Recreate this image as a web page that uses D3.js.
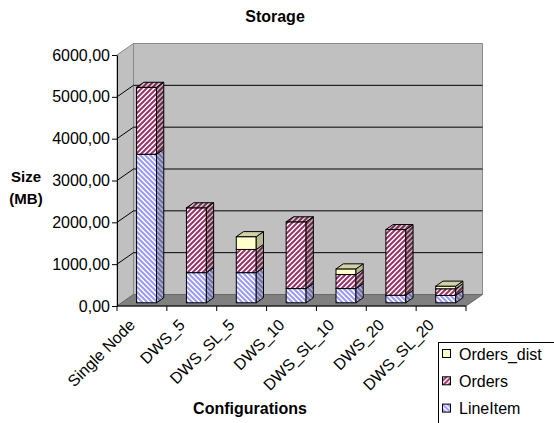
<!DOCTYPE html>
<html>
<head>
<meta charset="utf-8">
<script src="https://cdn.jsdelivr.net/npm/d3@7"></script>
<style>
  html, body { margin: 0; padding: 0; background: #fff; }
  svg { display: block; font-family: "Liberation Sans", Arial, sans-serif; }
</style>
</head>
<body>
<svg id="chart" width="554" height="423"></svg>
<script>
// Storage footprint per configuration (MB), stacked by table
const categories = ["Single Node", "DWS_5", "DWS_SL_5", "DWS_10", "DWS_SL_10", "DWS_20", "DWS_SL_20"];
const lineItem   = [3550, 720, 720, 340, 340, 180, 175];
const orders     = [1600, 1550, 555, 1595, 335, 1570, 160];
const ordersDist = [0, 0, 305, 0, 135, 0, 62];
const seriesKeys = ["LineItem", "Orders", "Orders_dist"];
const yTicks = [0, 1000, 2000, 3000, 4000, 5000, 6000];

const svg = d3.select("#chart");
const defs = svg.append("defs");

// plot box (front plane) and 3-D depth offset
const plotL = 117, plotR = 466, plotB = 306, plotT = 55;
const DX = 16.5, DY = -11.5;
const T0 = 0.28, T1 = 0.72;   // bar depth range within the floor

const y = d3.scaleLinear().domain([0, 6000]).range([plotB, plotT]);
const xCat = d3.scaleBand().domain(categories).range([plotL, plotR]).padding(0);
const xBar = d3.scaleBand().domain(categories).range([plotL, plotR])
  .paddingInner(0.6).paddingOuter(0.3);

// hatch patterns
function hatch(id, color, dir) {
  const p = defs.append("pattern").attr("id", id)
    .attr("patternUnits", "userSpaceOnUse").attr("width", 5).attr("height", 5);
  p.append("rect").attr("width", 5).attr("height", 5).attr("fill", "#fff");
  const d = dir === "up"
    ? "M-1,1 l2,-2 M0,5 l5,-5 M4,6 l2,-2"
    : "M-1,4 l2,2 M0,0 l5,5 M4,-1 l2,2";
  p.append("path").attr("d", d).attr("stroke", color).attr("stroke-width", 2);
}
hatch("pLine", "#9999ff", "down");
hatch("pOrd", "#993366", "up");

const fills = {
  LineItem: "url(#pLine)",
  Orders: "url(#pOrd)",
  Orders_dist: "#ffffcc"
};

const poly = pts => pts.map(p => p.join(",")).join(" ");

// walls and floor
svg.append("polygon")
  .attr("points", poly([[plotL, y(0)], [plotL, y(6000)], [plotL + DX, y(6000) + DY], [plotL + DX, y(0) + DY]]))
  .attr("fill", "#c0c0c0").attr("stroke", "#8a8a8a");
svg.append("polygon")
  .attr("points", poly([[plotL + DX, y(6000) + DY], [plotR + DX, y(6000) + DY], [plotR + DX, y(0) + DY], [plotL + DX, y(0) + DY]]))
  .attr("fill", "#c0c0c0").attr("stroke", "#8a8a8a");
svg.append("polygon")
  .attr("points", poly([[plotL, y(0)], [plotR, y(0)], [plotR + DX, y(0) + DY], [plotL + DX, y(0) + DY]]))
  .attr("fill", "#808080").attr("stroke", "#6a6a6a");

// gridlines on back and side walls
const grid = yTicks.filter(v => v > 0 && v < 6000);
svg.append("g").selectAll("line").data(grid).join("line")
  .attr("x1", plotL + DX).attr("x2", plotR + DX)
  .attr("y1", d => y(d) + DY).attr("y2", d => y(d) + DY)
  .attr("stroke", "#000").attr("stroke-width", 1);
svg.append("g").selectAll("line").data(grid).join("line")
  .attr("x1", plotL).attr("x2", plotL + DX)
  .attr("y1", d => y(d)).attr("y2", d => y(d) + DY)
  .attr("stroke", "#000").attr("stroke-width", 1);

// stacked data
const rows = categories.map((c, i) => ({
  cat: c, LineItem: lineItem[i], Orders: orders[i], Orders_dist: ordersDist[i]
}));
const stacked = d3.stack().keys(seriesKeys)(rows);

// 3-D bars
const bw = xBar.bandwidth();
const fx = T0 * DX, fy = T0 * DY;
const ddx = (T1 - T0) * DX, ddy = (T1 - T0) * DY;
const barsG = svg.append("g");
categories.forEach((c, i) => {
  const g = barsG.append("g");
  const x0 = xBar(c) + fx;
  const x1 = x0 + bw;
  let topSeg = null;
  stacked.forEach(layer => {
    const [v0, v1] = layer[i];
    if (v1 - v0 <= 0) return;
    const yb = y(v0) + fy, yt = y(v1) + fy;
    const f = fills[layer.key];
    // front
    g.append("rect").attr("x", x0).attr("y", yt).attr("width", bw).attr("height", yb - yt)
      .attr("fill", f).attr("stroke", "#000").attr("stroke-width", 1);
    // side
    const side = poly([[x1, yt], [x1 + ddx, yt + ddy], [x1 + ddx, yb + ddy], [x1, yb]]);
    g.append("polygon").attr("points", side).attr("fill", f);
    g.append("polygon").attr("points", side).attr("fill", "#000").attr("fill-opacity", 0.28)
      .attr("stroke", "#000").attr("stroke-width", 1);
    topSeg = { key: layer.key, yt };
  });
  if (topSeg) {
    const tp = poly([[x0, topSeg.yt], [x0 + ddx, topSeg.yt + ddy], [x1 + ddx, topSeg.yt + ddy], [x1, topSeg.yt]]);
    g.append("polygon").attr("points", tp).attr("fill", fills[topSeg.key]);
    g.append("polygon").attr("points", tp).attr("fill", "#000").attr("fill-opacity", 0.18)
      .attr("stroke", "#000").attr("stroke-width", 1);
  }
});

// value axis
const loc = d3.formatLocale({ decimal: ",", thousands: "", grouping: [3], currency: ["", ""] });
const yAxis = d3.axisLeft(y).tickValues(yTicks).tickFormat(loc.format(".2f"))
  .tickSize(5).tickSizeOuter(0).tickPadding(2);
const ya = svg.append("g").attr("transform", `translate(${plotL},0)`).call(yAxis);
ya.selectAll("text").attr("font-size", 16).attr("fill", "#000")
  .attr("font-family", "'Liberation Sans', Arial, sans-serif");
ya.selectAll("line, path").attr("stroke", "#000");

// category axis
svg.append("line").attr("x1", plotL).attr("x2", plotR).attr("y1", plotB).attr("y2", plotB)
  .attr("stroke", "#000");
const bounds = categories.map(c => xCat(c)).concat([plotR]);
svg.append("g").selectAll("line").data(bounds).join("line")
  .attr("x1", d => d).attr("x2", d => d).attr("y1", plotB).attr("y2", plotB + 5)
  .attr("stroke", "#000");
svg.append("g").selectAll("text").data(categories).join("text")
  .attr("transform", d => `translate(${xCat(d) + xCat.bandwidth() / 2 - 6},${plotB + 20}) rotate(-45)`)
  .attr("text-anchor", "end").attr("font-size", 16).attr("fill", "#000")
  .text(d => d);

// titles
svg.append("text").attr("x", 275).attr("y", 22).attr("text-anchor", "middle")
  .attr("font-size", 16).attr("font-weight", "bold").text("Storage");
svg.append("text").attr("x", 250).attr("y", 414).attr("text-anchor", "middle")
  .attr("font-size", 16).attr("font-weight", "bold").text("Configurations");
const yl = svg.append("text").attr("text-anchor", "middle").attr("font-size", 15).attr("font-weight", "bold");
yl.append("tspan").attr("x", 26).attr("y", 182).text("Size");
yl.append("tspan").attr("x", 26).attr("y", 204).text("(MB)");

// legend
const legend = svg.append("g");
legend.append("rect").attr("x", 438.5).attr("y", 342.5).attr("width", 130).attr("height", 100)
  .attr("fill", "#fff").attr("stroke", "#000");
const legItems = seriesKeys.slice().reverse();
const li = legend.selectAll("g").data(legItems).join("g")
  .attr("transform", (d, i) => `translate(442,${354 + i * 27.3})`);
li.append("rect").attr("x", 0.5).attr("y", -4.5).attr("width", 8).attr("height", 8)
  .attr("fill", d => fills[d]).attr("stroke", "#000");
li.append("text").attr("x", 17).attr("y", 0).attr("dy", "0.35em")
  .attr("font-size", 16).attr("fill", "#000").text(d => d);
</script>
</body>
</html>
